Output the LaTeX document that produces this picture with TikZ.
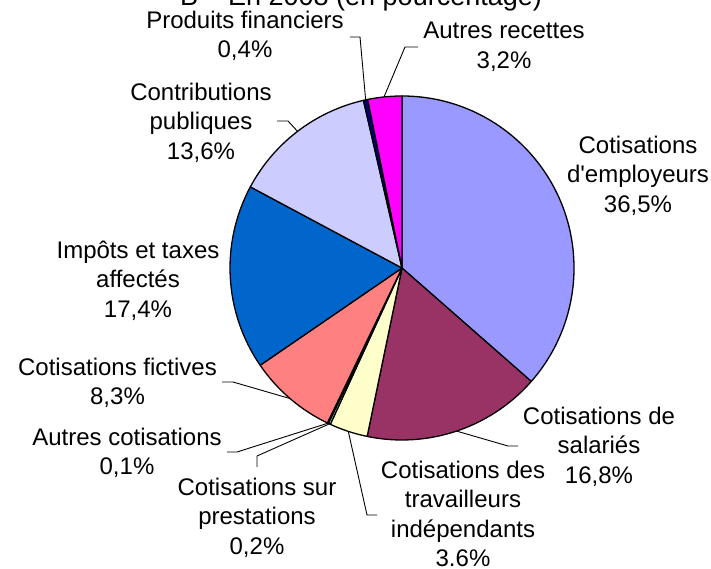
\documentclass[tikz,border=0pt]{standalone}
\usepackage{fontspec}
\setmainfont{Liberation Sans}

\definecolor{employeurs}{HTML}{9999FF}
\definecolor{salaries}{HTML}{993366}
\definecolor{travailleurs}{HTML}{FFFFCC}
\definecolor{prestations}{HTML}{CCFFFF}
\definecolor{autrescot}{HTML}{660066}
\definecolor{fictives}{HTML}{FF8080}
\definecolor{impots}{HTML}{0066CC}
\definecolor{contributions}{HTML}{CCCCFF}
\definecolor{produits}{HTML}{000080}
\definecolor{recettes}{HTML}{FF00FF}

\begin{document}
\begin{tikzpicture}[
        x=1pt, y=1pt,
        pieslice/.style={draw=black, line width=1.3pt, line join=round},
        leaderline/.style={draw=black, line width=0.9pt},
        chartlabel/.style={align=center, anchor=north, inner sep=0pt,
            font=\fontsize{24}{29.5}\selectfont}
        ]
            %\draw[lightgray] (0, 0) grid[step=50] (711, 569);
            \useasboundingbox (0, 0) rectangle (711, 569);
            \coordinate (C) at (402, 301);

            \node[anchor=base, inner sep=0pt, font=\fontsize{27}{32}\selectfont] (titre) at (361, 563) {B -- En 2008 (en pourcentage)};

            \filldraw[pieslice, fill=employeurs] (C) -- ++(90:172pt) arc[start angle=90, end angle=-41.27, radius=172pt] -- cycle;
            \filldraw[pieslice, fill=salaries] (C) -- ++(-41.27:172pt) arc[start angle=-41.27, end angle=-101.69, radius=172pt] -- cycle;
            \filldraw[pieslice, fill=travailleurs] (C) -- ++(-101.69:172pt) arc[start angle=-101.69, end angle=-114.64, radius=172pt] -- cycle;
            \filldraw[pieslice, fill=prestations] (C) -- ++(-114.64:172pt) arc[start angle=-114.64, end angle=-115.35, radius=172pt] -- cycle;
            \filldraw[pieslice, fill=autrescot] (C) -- ++(-115.35:172pt) arc[start angle=-115.35, end angle=-115.71, radius=172pt] -- cycle;
            \filldraw[pieslice, fill=fictives] (C) -- ++(-115.71:172pt) arc[start angle=-115.71, end angle=-145.56, radius=172pt] -- cycle;
            \filldraw[pieslice, fill=impots] (C) -- ++(-145.56:172pt) arc[start angle=-145.56, end angle=-208.14, radius=172pt] -- cycle;
            \filldraw[pieslice, fill=contributions] (C) -- ++(-208.14:172pt) arc[start angle=-208.14, end angle=-257.05, radius=172pt] -- cycle;
            \filldraw[pieslice, fill=produits] (C) -- ++(-257.05:172pt) arc[start angle=-257.05, end angle=-258.49, radius=172pt] -- cycle;
            \filldraw[pieslice, fill=recettes] (C) -- ++(-258.49:172pt) arc[start angle=-258.49, end angle=-270, radius=172pt] -- cycle;

            \node[chartlabel] (l-employeurs) at (638, 433.5) {Cotisations\\d\textquotesingle employeurs\\36,5\%};
            \node[chartlabel] (l-salaries) at (599, 162.5) {Cotisations de\\salariés\\16,8\%};
            \node[chartlabel] (l-travailleurs) at (463, 108.5) {Cotisations des\\travailleurs\\indépendants\\3.6\%};
            \node[chartlabel] (l-prestations) at (257, 91.5) {Cotisations sur\\prestations\\0,2\%};
            \node[chartlabel] (l-autrescot) at (127, 141.5) {Autres cotisations\\0,1\%};
            \node[chartlabel] (l-fictives) at (117.5, 211.5) {Cotisations fictives\\8,3\%};
            \node[chartlabel] (l-impots) at (138, 328.5) {Impôts et taxes\\affectés\\17,4\%};
            \node[chartlabel] (l-contributions) at (201, 486.5) {Contributions\\publiques\\13,6\%};
            \node[chartlabel] (l-produits) at (245, 558.5) {Produits financiers\\0,4\%};
            \node[chartlabel] (l-recettes) at (504, 547) {Autres recettes\\3,2\%};

            \path (C) ++(-71.5:172pt) coordinate (e-salaries);
            \path (C) ++(-108.2:172pt) coordinate (e-travailleurs);
            \path (C) ++(-115.0:172pt) coordinate (e-prestations);
            \path (C) ++(-115.53:172pt) coordinate (e-autrescot);
            \path (C) ++(-130.6:172pt) coordinate (e-fictives);
            \path (C) ++(127.4:172pt) coordinate (e-contributions);
            \path (C) ++(102.2:172pt) coordinate (e-produits);
            \path (C) ++(96:172pt) coordinate (e-recettes);

            \draw[leaderline] (518, 123) -- (508, 123) -- (e-salaries);
            \draw[leaderline] (377, 54) -- (367, 54) -- (e-travailleurs);
            \draw[leaderline] (257, 102) -- (257, 113) -- (e-prestations);
            \draw[leaderline] (227, 117) -- (237, 117) -- (e-autrescot);
            \draw[leaderline] (222, 187) -- (233, 187) -- (e-fictives);
            \draw[leaderline] (277, 448) -- (288, 448) -- (e-contributions);
            \draw[leaderline] (350, 532) -- (360, 532) -- (e-produits);
            \draw[leaderline] (418, 522) -- (405, 522) -- (e-recettes);
        \end{tikzpicture}
\end{document}
